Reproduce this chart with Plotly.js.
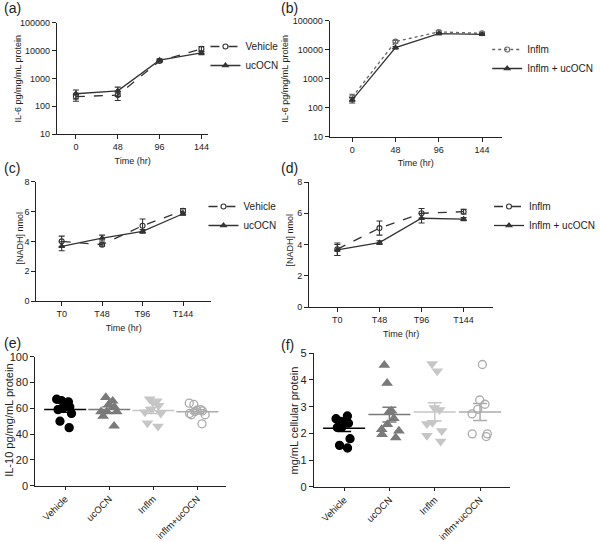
<!DOCTYPE html>
<html>
<head>
<meta charset="utf-8">
<script src="https://cdn.plot.ly/plotly-3.0.1.min.js"></script>
<style>
  html, body { margin: 0; padding: 0; background: #fff; }
  #myPlot { width: 600px; height: 542px; }
</style>
</head>
<body>
<div id="myPlot"></div>
<script>
// ---- data ----
const timesHr = [0, 48, 96, 144];
const timeLabels = ["T0", "T48", "T96", "T144"];
const groups = ["Vehicle", "ucOCN", "Inflm", "inflm+ucOCN"];

// (a) IL-6, pg/mg/mL protein
const il6Vehicle = [220, 250, 4200, 11500];
const il6VehicleErr = [70, 90, 400, 2500];
const il6Ucocn = [280, 355, 4500, 8300];
const il6UcocnErr = [100, 130, 500, 1200];

// (b) IL-6 with inflammation
const il6Inflm = [230, 19000, 41000, 37000];
const il6InflmErr = [60, 2000, 4000, 3000];
const il6InflmUcocn = [185, 11800, 36000, 34000];
const il6InflmUcocnErr = [40, 1000, 3000, 3000];

// (c) [NADH] nmol
const nadhVehicle = [4.0, 3.78, 5.05, 6.05];
const nadhVehicleErr = [0.35, 0.1, 0.45, 0.15];
const nadhUcocn = [3.67, 4.22, 4.67, 5.85];
const nadhUcocnErr = [0.3, 0.2, 0.12, 0.1];

// (d) [NADH] nmol with inflammation
const nadhInflm = [3.7, 5.05, 6.0, 6.1];
const nadhInflmErr = [0.4, 0.45, 0.3, 0.15];
const nadhInflmUcocn = [3.65, 4.12, 5.68, 5.62];
const nadhInflmUcocnErr = [0.35, 0.12, 0.3, 0.1];

// (e) IL-10 pg/mg/mL protein, individual samples
const il10Vehicle = [67, 66, 65, 62, 61, 60, 59, 56, 50, 45];
const il10Ucocn = [68.5, 65.7, 63.1, 61.2, 57.4, 57.4, 57.4, 54, 46.3];
const il10Inflm = [67, 65.5, 64.5, 62, 59, 57, 56, 48.5, 46];
const il10InflmUcocn = [64, 63, 59, 58.5, 58, 57.5, 56, 55, 55, 48];

// (f) mg/mL cellular protein, individual samples
const protVehicle = [2.65, 2.55, 2.45, 2.42, 2.40, 2.38, 2.25, 2.22, 1.80, 1.55, 1.45];
const protUcocn = [4.56, 3.88, 2.84, 2.81, 2.56, 2.34, 2.15, 2.09, 1.96, 1.84];
const protInflm = [4.6, 4.33, 2.95, 2.88, 2.4, 2.35, 2.09, 1.91, 1.70];
const protInflmUcocn = [4.58, 3.25, 3.09, 2.90, 2.73, 1.98, 1.98, 1.88];

// ---- helpers ----
const FONT = "Liberation Sans, Arial, sans-serif";
const INK = "#222";

function mean(a) { return a.reduce((s, v) => s + v, 0) / a.length; }
function sem(a) {
    const m = mean(a);
    const sd = Math.sqrt(a.reduce((s, v) => s + (v - m) * (v - m), 0) / (a.length - 1));
    return sd / Math.sqrt(a.length);
}

function lineTrace(x, y, err, name, ax, legend, dash, symbol, color) {
    return {
        x: x, y: y, name: name, type: "scatter", mode: "lines+markers",
        xaxis: "x" + ax, yaxis: "y" + ax, legend: legend,
        line: { color: color, width: 1.3, dash: dash },
        marker: { symbol: symbol, size: 5, color: color, line: { color: color, width: 1.1 } },
        error_y: { type: "data", array: err, visible: true, color: color, thickness: 1.1, width: 3 },
        hoverinfo: "skip"
    };
}

const dotStyles = [
    { symbol: "circle", color: "#000000" },
    { symbol: "triangle-up", color: "#7a7a7a" },
    { symbol: "triangle-down", color: "#c6c6c6" },
    { symbol: "circle-open", color: "#ababab" }
];

function dotTraces(sets, ax) {
    const out = [];
    sets.forEach((vals, i) => {
        const st = dotStyles[i];
        out.push({
            type: "box", x: vals.map(() => groups[i]), y: vals,
            xaxis: "x" + ax, yaxis: "y" + ax, showlegend: false,
            boxpoints: "all", jitter: 0.9, pointpos: 0, width: 0.6,
            fillcolor: "rgba(0,0,0,0)", line: { width: 0, color: "rgba(0,0,0,0)" },
            marker: { symbol: st.symbol, size: 8, color: st.color, line: { color: st.color, width: 1.3 } },
            hoverinfo: "skip"
        });
        out.push({
            type: "scatter", mode: "markers", x: [groups[i]], y: [mean(vals)],
            xaxis: "x" + ax, yaxis: "y" + ax, showlegend: false,
            marker: { symbol: "line-ew", size: 30, color: st.color, line: { color: st.color, width: 1.5 } },
            error_y: { type: "data", array: [sem(vals)], visible: true, color: st.color, thickness: 1.5, width: 7 },
            hoverinfo: "skip"
        });
    });
    return out;
}

const data = [
    lineTrace(timesHr, il6Vehicle, il6VehicleErr, "Vehicle", "", "legend", "dash", "circle-open", "#333"),
    lineTrace(timesHr, il6Ucocn, il6UcocnErr, "ucOCN", "", "legend", "solid", "triangle-up", "#333"),
    lineTrace(timesHr, il6Inflm, il6InflmErr, "Inflm", "2", "legend2", "dot", "circle-open", "#666"),
    lineTrace(timesHr, il6InflmUcocn, il6InflmUcocnErr, "Inflm + ucOCN", "2", "legend2", "solid", "triangle-up", "#333"),
    lineTrace(timeLabels, nadhVehicle, nadhVehicleErr, "Vehicle", "3", "legend3", "dash", "circle-open", "#333"),
    lineTrace(timeLabels, nadhUcocn, nadhUcocnErr, "ucOCN", "3", "legend3", "solid", "triangle-up", "#333"),
    lineTrace(timeLabels, nadhInflm, nadhInflmErr, "Inflm", "4", "legend4", "dash", "circle-open", "#333"),
    lineTrace(timeLabels, nadhInflmUcocn, nadhInflmUcocnErr, "Inflm + ucOCN", "4", "legend4", "solid", "triangle-up", "#333")
].concat(
    dotTraces([il10Vehicle, il10Ucocn, il10Inflm, il10InflmUcocn], "5"),
    dotTraces([protVehicle, protUcocn, protInflm, protInflmUcocn], "6")
);

// pixel -> paper helpers
const W = 600, H = 542;
const px = (a, b) => [a / W, b / W];
const py = (top, bottom) => [1 - bottom / H, 1 - top / H];

function axis(extra) {
    return Object.assign({
        showgrid: false, zeroline: false, showline: true, linecolor: INK, linewidth: 1,
        ticks: "outside", ticklen: 4, tickcolor: INK, tickwidth: 1,
        tickfont: { family: FONT, size: 9, color: INK }, fixedrange: true
    }, extra);
}
const smallTitle = t => ({ text: t, font: { family: FONT, size: 9, color: INK }, standoff: 6 });

const logTicks = [10, 100, 1000, 10000, 100000];
const catFont = { family: FONT, size: 9.5, color: INK };

function legendAt(x, y) {
    return {
        x: x / W, y: 1 - y / H, xanchor: "left", yanchor: "top", bgcolor: "rgba(0,0,0,0)",
        font: { family: FONT, size: 10, color: INK }, itemwidth: 30, tracegroupgap: 0
    };
}

// y-axis titles placed as rotated text: [text, x px, y px, size]
const yTitles = [
    ["IL-6 pg/mg/mL protein", 18, 79, 9],
    ["IL-6 pg/mg/mL protein", 291, 79, 9],
    ["[NADH] nmol", 20, 238, 9],
    ["[NADH] nmol", 296, 240, 9],
    ["IL-10 pg/mg/mL protein", 9, 420, 11],
    ["mg/mL cellular protein", 301, 420, 11]
];

const panelTags = [
    ["(a)", 2, 8], ["(b)", 285, 8], ["(c)", 2, 168],
    ["(d)", 285, 168], ["(e)", 2, 343], ["(f)", 285, 345]
];

const layout = {
    width: W, height: H,
    margin: { l: 0, r: 0, t: 0, b: 0 },
    paper_bgcolor: "#fff", plot_bgcolor: "#fff",
    font: { family: FONT, color: INK },
    boxmode: "overlay",
    showlegend: true,

    xaxis: axis({ domain: px(58, 213), range: [-22, 152], tickvals: timesHr, anchor: "y", title: smallTitle("Time (hr)") }),
    yaxis: axis({ domain: py(22.7, 134), type: "log", range: [1, 5], tickvals: logTicks, ticktext: logTicks.map(String), anchor: "x" }),

    xaxis2: axis({ domain: px(337, 513), range: [-25, 166], tickvals: timesHr, anchor: "y2", title: smallTitle("Time (hr)") }),
    yaxis2: axis({ domain: py(20.7, 136.7), type: "log", range: [1, 5], tickvals: logTicks, ticktext: logTicks.map(String), anchor: "x2" }),

    xaxis3: axis({ domain: px(37, 216), type: "category", range: [-0.63, 3.7], anchor: "y3", title: smallTitle("Time (hr)") }),
    yaxis3: axis({ domain: py(181.7, 301), range: [0, 8], dtick: 2, anchor: "x3" }),

    xaxis4: axis({ domain: px(316, 504), type: "category", range: [-0.67, 3.7], anchor: "y4", title: smallTitle("Time (hr)") }),
    yaxis4: axis({ domain: py(182, 307), range: [0, 8], dtick: 2, anchor: "x4" }),

    xaxis5: axis({ domain: px(36, 231), type: "category", range: [-0.68, 3.65], tickangle: -45, ticklen: 3, anchor: "y5", tickfont: catFont }),
    yaxis5: axis({ domain: py(356.7, 485.7), range: [0, 100], dtick: 20, anchor: "x5", tickfont: { family: FONT, size: 11, color: INK } }),

    xaxis6: axis({ domain: px(320.7, 521.7), type: "category", range: [-0.67, 3.67], tickangle: -45, ticklen: 3, anchor: "y6", tickfont: catFont }),
    yaxis6: axis({ domain: py(353.3, 486.7), range: [0, 5], dtick: 1, anchor: "x6", tickfont: { family: FONT, size: 11, color: INK } }),

    legend: legendAt(210, 32),
    legend2: legendAt(498, 35),
    legend3: legendAt(208, 192),
    legend4: legendAt(500, 192),

    annotations: panelTags.map(([t, x, y]) => ({
        text: t, xref: "paper", yref: "paper", x: x / W, y: 1 - y / H,
        xanchor: "left", yanchor: "middle", showarrow: false,
        font: { family: FONT, size: 14, color: INK }
    })).concat(yTitles.map(([t, x, y, s]) => ({
        text: t, xref: "paper", yref: "paper", x: x / W, y: 1 - y / H,
        xanchor: "center", yanchor: "middle", textangle: -90, showarrow: false,
        font: { family: FONT, size: s, color: INK }
    })))
};

Plotly.newPlot("myPlot", data, layout, { displayModeBar: false, staticPlot: true });
</script>
</body>
</html>
